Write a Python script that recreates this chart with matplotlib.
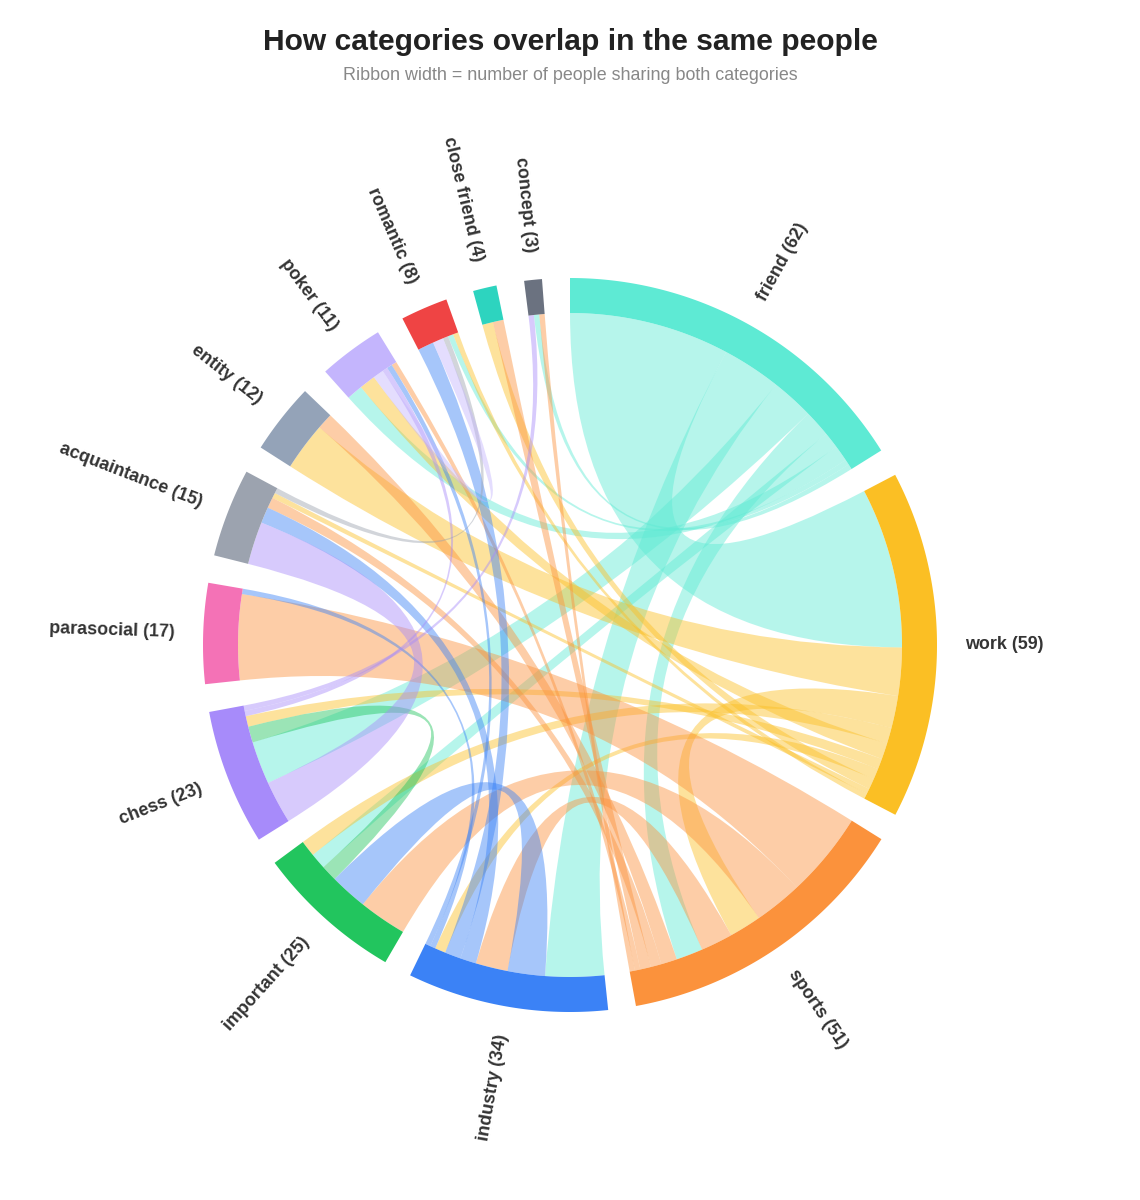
import numpy as np
import matplotlib
matplotlib.use("Agg")
import matplotlib.pyplot as plt
from matplotlib.path import Path
from matplotlib.patches import PathPatch

plt.rcParams['font.family'] = ['Liberation Sans', 'DejaVu Sans']

categories = ["friend", "work", "sports", "industry", "important", "chess",
              "parasocial", "acquaintance", "entity", "poker", "romantic",
              "close friend", "concept"]
colors = ["#5eead4", "#fbbf24", "#fb923c", "#3b82f6", "#22c55e", "#a78bfa",
          "#f472b6", "#9ca3af", "#94a3b8", "#c4b5fd", "#ef4444", "#2dd4bf",
          "#6b7280"]

# people shared by each pair of categories
pair_a = ["friend", "friend", "friend", "friend", "friend", "friend", "friend", "friend",
          "work", "work", "work", "work", "work", "work", "work", "work", "work",
          "sports", "sports", "sports", "sports", "sports", "sports", "sports", "sports",
          "industry", "industry", "industry", "industry", "industry",
          "important", "chess", "chess", "chess", "acquaintance", "poker"]
pair_b = ["work", "sports", "industry", "important", "chess", "poker", "romantic", "concept",
          "sports", "industry", "important", "chess", "acquaintance", "entity", "poker",
          "romantic", "close friend",
          "industry", "important", "parasocial", "acquaintance", "entity", "poker",
          "close friend", "concept",
          "important", "parasocial", "acquaintance", "poker", "romantic",
          "chess", "acquaintance", "poker", "concept", "romantic", "romantic"]
pair_n = [30, 5, 11, 3, 8, 3, 1, 1,
          6, 2, 3, 2, 1, 9, 3, 1, 2,
          6, 9, 16, 2, 3, 1, 2, 1,
          7, 1, 3, 1, 3,
          3, 8, 1, 1, 1, 2]

# order used when two ribbons of a category have the same width
tie_order = ["acquaintance", "chess", "friend", "work", "industry", "sports",
             "important", "parasocial", "entity", "poker", "romantic",
             "close friend", "concept"]

n = len(categories)
idx = {c: i for i, c in enumerate(categories)}
m = np.zeros((n, n))
for a, b, v in zip(pair_a, pair_b, pair_n):
    m[idx[a], idx[b]] = v
    m[idx[b], idx[a]] = v
totals = m.sum(axis=1)

R_IN, R_OUT = 332, 367
pad = np.deg2rad(4.38)
k = (2 * np.pi - n * pad) / totals.sum()

# group angles
g_start, g_end = [], []
x = 0.0
for i in range(n):
    g_start.append(x)
    x += totals[i] * k
    g_end.append(x)
    x += pad

# subgroup angles
sub = {}
for i in range(n):
    partners = [j for j in range(n) if m[i, j] > 0]
    partners.sort(key=lambda j: (-m[i, j], tie_order.index(categories[j])))
    a = g_start[i]
    for j in partners:
        sub[(i, j)] = (a, a + m[i, j] * k)
        a += m[i, j] * k


def arc_pts(a0, a1, r):
    num = max(2, int(abs(a1 - a0) / 0.005) + 2)
    t = np.linspace(a0, a1, num)
    return list(zip(r * np.sin(t), r * np.cos(t)))


def ribbon(s0, s1, t0, t1, r):
    verts, codes = [], []
    sp = arc_pts(s0, s1, r)
    verts += sp
    codes += [Path.MOVETO] + [Path.LINETO] * (len(sp) - 1)
    verts += [(0, 0), (r * np.sin(t0), r * np.cos(t0))]
    codes += [Path.CURVE3] * 2
    tp = arc_pts(t0, t1, r)
    verts += tp[1:]
    codes += [Path.LINETO] * (len(tp) - 1)
    verts += [(0, 0), (r * np.sin(s0), r * np.cos(s0))]
    codes += [Path.CURVE3] * 2
    verts.append((0, 0))
    codes.append(Path.CLOSEPOLY)
    return Path(verts, codes)


fig = plt.figure(figsize=(11.4, 12), dpi=100)
ax = fig.add_axes([0, 0, 1, 1])
ax.set_xlim(-570, 570)
ax.set_ylim(-555, 645)
ax.axis('off')

# ribbons
for i in range(n):
    for j in range(i + 1, n):
        if m[i, j] > 0:
            s0, s1 = sub[(i, j)]
            t0, t1 = sub[(j, i)]
            ax.add_patch(PathPatch(ribbon(s0, s1, t0, t1, R_IN), facecolor=colors[i],
                                   edgecolor='none', alpha=0.45))

# group arcs and labels
for i in range(n):
    outer = arc_pts(g_start[i], g_end[i], R_OUT)
    inner = arc_pts(g_end[i], g_start[i], R_IN)
    ax.fill([p[0] for p in outer + inner], [p[1] for p in outer + inner],
            color=colors[i], lw=0)
    mid = (g_start[i] + g_end[i]) / 2
    deg = np.rad2deg(mid)
    lx, ly = 395 * np.sin(mid), 395 * np.cos(mid)
    if deg < 180:
        rot, ha = 90 - deg, 'left'
    else:
        rot, ha = 270 - deg, 'right'
    ax.text(lx, ly, f"{categories[i]} ({int(totals[i])})", rotation=rot, ha=ha,
            va='center', rotation_mode='anchor', fontsize=12.9, fontweight='bold',
            color='#333333')

fig.text(0.5, 1 - 42 / 1200, "How categories overlap in the same people", ha='center',
         va='center', fontsize=21.6, fontweight='bold', color='#222222')
fig.text(0.5, 1 - 75 / 1200, "Ribbon width = number of people sharing both categories",
         ha='center', va='center', fontsize=12.9, color='#888888')

fig.savefig("out.png", dpi=100)
